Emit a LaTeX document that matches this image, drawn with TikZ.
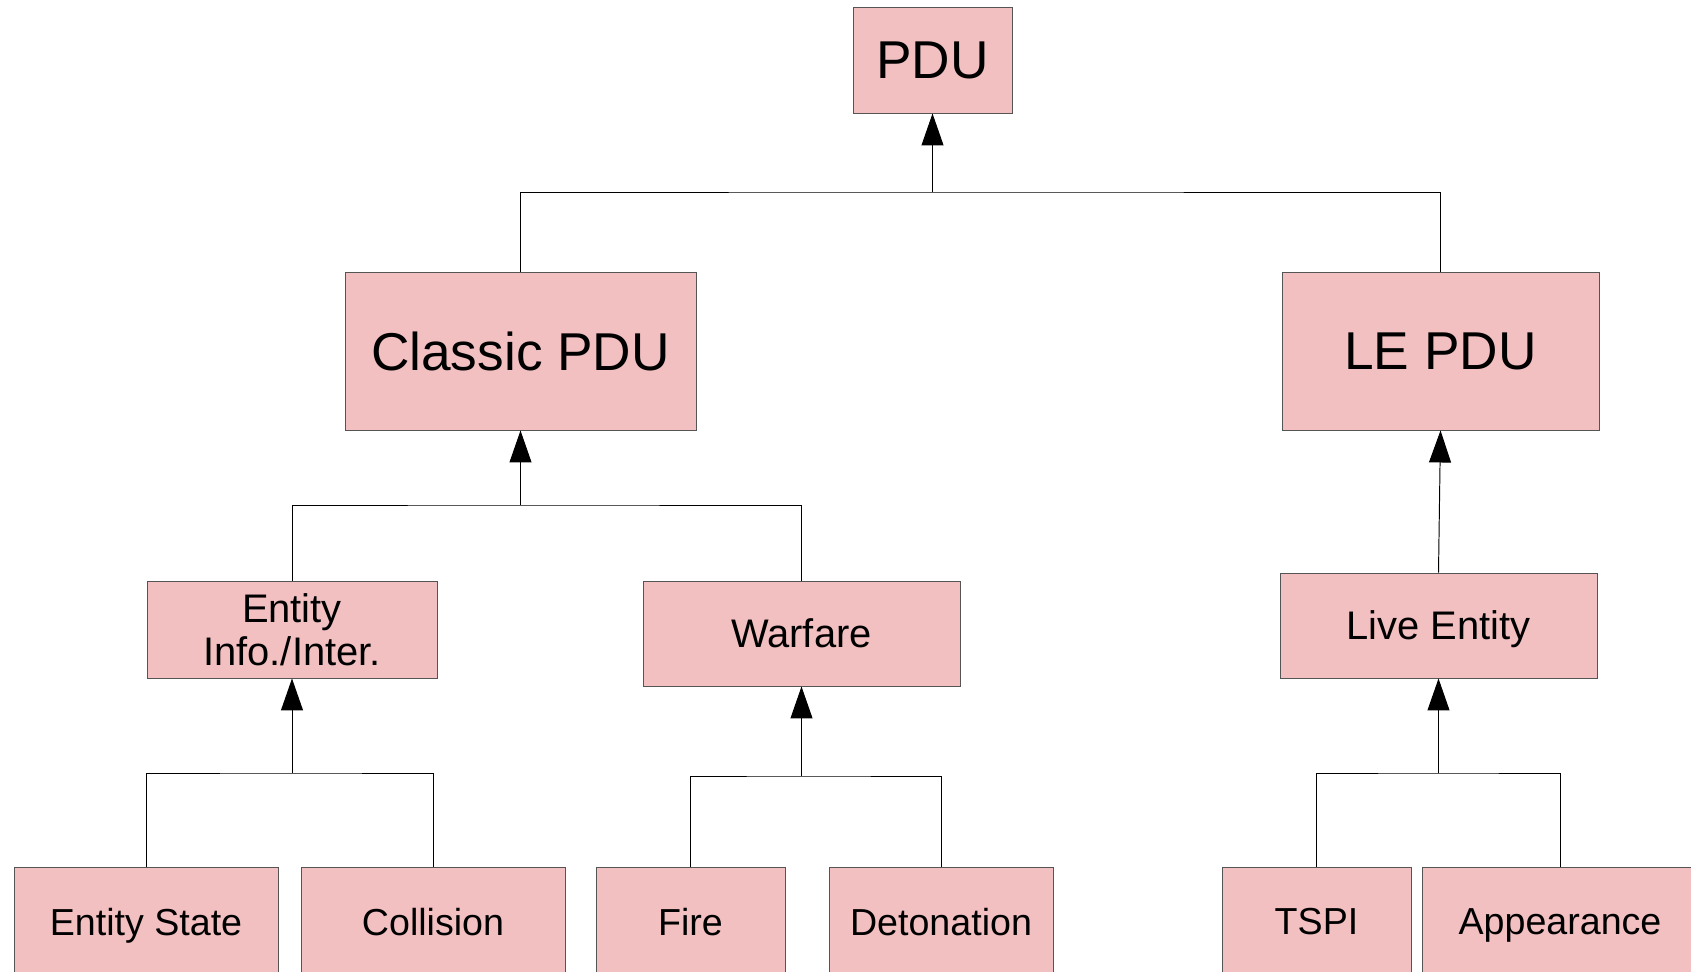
\documentclass[tikz,border=0pt]{standalone}
\usepackage{fontspec}
\setmainfont{Liberation Sans}
\usetikzlibrary{arrows.meta}
\definecolor{boxpink}{RGB}{242,192,193}
\definecolor{boxedge}{RGB}{85,85,85}

\begin{document}
\begin{tikzpicture}[>={Triangle[length=0.64cm,width=0.44cm]}, line width=0.55pt,
  box/.style={draw=boxedge, fill=boxpink, inner sep=0pt, align=center},
  big/.style={font=\fontsize{30.3}{35}\selectfont},
  mid/.style={font=\fontsize{22.7}{24.5}\selectfont},
  midline/.style={mid, text depth=0pt},
  small/.style={font=\fontsize{21.4}{24}\selectfont, text depth=0pt}]
  \useasboundingbox (0,0) rectangle (33.82,-19.44);

  % Root class
  \node[box,big,minimum width=3.18cm,minimum height=2.12cm] (pdu) at (18.65,-1.20) {PDU};

  % Second level
  \node[box,big,minimum width=7.02cm,minimum height=3.16cm] (classic) at (10.41,-7.02) {Classic PDU};
  \node[box,big,minimum width=6.34cm,minimum height=3.16cm] (le) at (28.81,-7.02) {LE PDU};

  % Third level
  \node[box,mid,minimum width=5.80cm,minimum height=1.94cm] (info) at (5.84,-12.59) {Entity\\Info./Inter.};
  \node[box,midline,minimum width=6.34cm,minimum height=2.10cm] (war) at (16.03,-12.67) {Warfare};
  \node[box,midline,minimum width=6.34cm,minimum height=2.10cm] (live) at (28.77,-12.51) {Live Entity};

  % Bottom row (runs off the page)
  \node[box,small,minimum width=5.28cm,minimum height=2.18cm] (es) at (2.92,-18.43) {Entity State};
  \node[box,small,minimum width=5.28cm,minimum height=2.18cm] (col) at (8.66,-18.43) {Collision};
  \node[box,small,minimum width=3.78cm,minimum height=2.18cm] (fire) at (13.81,-18.43) {Fire};
  \node[box,small,minimum width=4.48cm,minimum height=2.18cm] (det) at (18.82,-18.43) {Detonation};
  \node[box,small,minimum width=3.78cm,minimum height=2.18cm] (tspi) at (26.33,-18.43) {TSPI};
  \node[box,small,minimum width=5.52cm,minimum height=2.18cm] (app) at (31.20,-18.43) {Appearance};

  % Junctions of the buses
  \coordinate (jPdu) at (18.65,-3.84);
  \coordinate (jClassic) at (10.41,-10.10);
  \coordinate (jInfo) at (5.84,-15.46);
  \coordinate (jWar) at (16.03,-15.52);
  \coordinate (jLive) at (28.77,-15.46);

  % Inheritance connectors
  \draw (classic.north) |- (jPdu) -| (le.north);
  \draw[->] (jPdu) -- (pdu.south);

  \draw (info.north) |- (jClassic) -| (war.north);
  \draw[->] (jClassic) -- (classic.south);

  \draw[->] (live.north) -- (le.south);

  \draw (es.north) |- (jInfo) -| (col.north);
  \draw[->] (jInfo) -- (info.south);

  \draw (fire.north) |- (jWar) -| (det.north);
  \draw[->] (jWar) -- (war.south);

  \draw (tspi.north) |- (jLive) -| (app.north);
  \draw[->] (jLive) -- (live.south);
\end{tikzpicture}
\end{document}
